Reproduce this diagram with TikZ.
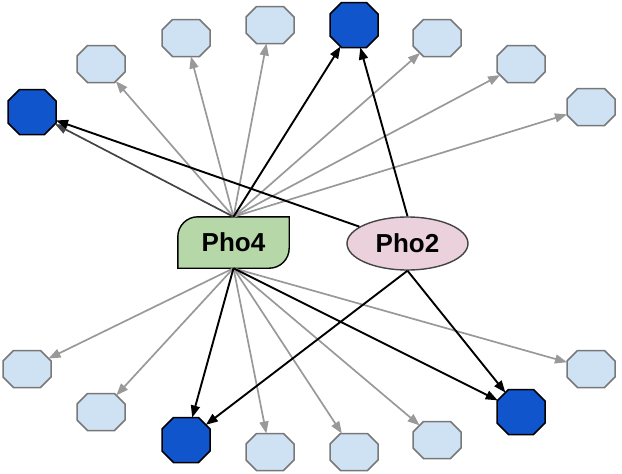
\documentclass[tikz,border=0pt]{standalone}
\usepackage{fontspec}
\setmainfont{Liberation Sans}
\usetikzlibrary{arrows.meta,calc,shapes.geometric,backgrounds}
\definecolor{liteblue}{HTML}{CFE2F3}
\definecolor{darkblue}{HTML}{1155CC}
\definecolor{octgray}{HTML}{787878}
\definecolor{edgegray}{HTML}{999999}
\definecolor{edgedark}{HTML}{444444}
\definecolor{phofourfill}{HTML}{B6D7A8}
\definecolor{photwofill}{HTML}{EAD1DC}
% octagon outline around a named node: #1 style, #2 node, #3 half width, #4 half height, #5 cut
\newcommand\octoutline[5]{%
  \draw[#1] ($(#2)+(-#3+#5,-#4)$) -- ($(#2)+(#3-#5,-#4)$) -- ($(#2)+(#3,-#4+#5)$) -- ($(#2)+(#3,#4-#5)$)
    -- ($(#2)+(#3-#5,#4)$) -- ($(#2)+(-#3+#5,#4)$) -- ($(#2)+(-#3,#4-#5)$) -- ($(#2)+(-#3,-#4+#5)$) -- cycle;}
% arrow from #2 to the octagon border of node #3: #1 style, #4 half width, #5 half height, #6 cut
\newcommand\octarrow[6]{%
  \draw[#1] let \p1=($(#2)-(#3)$),
    \n1={veclen(\x1,\y1)*min(#4/max(abs(\x1),0.1), #5/max(abs(\y1),0.1), (#4/#6+#5/#6-1)/(abs(\x1)/#6+abs(\y1)/#6))}
    in (#2) -- ($(#3)!\n1!(#2)$);}
\begin{document}
\begin{tikzpicture}[x=1pt,y=-1pt,
  lite/.style={rectangle, minimum width=48pt, minimum height=37pt, inner sep=0pt},
  dark/.style={rectangle, minimum width=48pt, minimum height=45pt, inner sep=0pt},
  liteline/.style={draw=octgray, fill=liteblue, line width=1.5pt},
  darkline/.style={draw=black, fill=darkblue, line width=1.5pt},
  lbl/.style={font=\fontsize{26}{30}\selectfont\bfseries},
  gedge/.style={draw=edgegray, line width=1.7pt, -{Triangle[length=12pt,width=9pt]}},
  bedge/.style={draw=black, line width=1.9pt, -{Triangle[length=12pt,width=9pt]}},
  dedge/.style={draw=edgedark, line width=1.7pt, -{Triangle[length=12pt,width=9pt]}}
]
\useasboundingbox (0,0) rectangle (622,474);
% Hub nodes
\node[lbl, rectangle, minimum width=111pt, minimum height=51pt, inner sep=0pt] (p4) at (233.5,242.5) {Pho4};
\node[lbl, ellipse, minimum width=121pt, minimum height=53pt, inner sep=0pt, draw=edgedark, fill=photwofill, line width=1.4pt] (p2) at (407.5,243.5) {Pho2};
\begin{scope}[on background layer]
\draw[fill=phofourfill, draw=black, line width=1.4pt]
  (p4.south west) [rounded corners=20pt] -- (p4.north west) [sharp corners] -- (p4.north east)
  [rounded corners=20pt] -- (p4.south east) [sharp corners] -- cycle;
\end{scope}
% Targets
\node[dark] (d1) at (32,112) {};
\node[lite] (l1) at (101,64) {};
\node[lite] (l2) at (186,38) {};
\node[lite] (l3) at (270,25) {};
\node[dark] (d2) at (354,25) {};
\node[lite] (l4) at (437,38) {};
\node[lite] (l5) at (521,64) {};
\node[lite] (l6) at (591,107) {};
\node[lite] (l7) at (27,369) {};
\node[lite] (l8) at (101,412) {};
\node[dark] (d3) at (186,440) {};
\node[lite] (l9) at (270,452) {};
\node[lite] (l10) at (354,452) {};
\node[lite] (l11) at (437,440) {};
\node[dark] (d4) at (521,412) {};
\node[lite] (l12) at (591,369) {};
\foreach \t in {l1,l2,l3,l4,l5,l6,l7,l8,l9,l10,l11,l12} {\octoutline{liteline}{\t}{24}{18.5}{10.5}}
\foreach \t in {d1,d2,d3,d4} {\octoutline{darkline}{\t}{24}{22.5}{11.5}}
% Edges from Pho4
\foreach \t in {l1,l2,l3,l4,l5,l6} {\octarrow{gedge}{p4.north}{\t}{24}{18.5}{10.5}}
\foreach \t in {l7,l8,l9,l10,l11,l12} {\octarrow{gedge}{p4.south}{\t}{24}{18.5}{10.5}}
\octarrow{dedge}{p4.north}{d1}{24}{22.5}{11.5}
\octarrow{bedge}{p4.north}{d2}{24}{22.5}{11.5}
\octarrow{bedge}{p4.south}{d3}{24}{22.5}{11.5}
\octarrow{bedge}{p4.south}{d4}{24}{22.5}{11.5}
% Edges from Pho2
\octarrow{bedge}{p2}{d1}{24}{22.5}{11.5}
\octarrow{bedge}{p2.north}{d2}{24}{22.5}{11.5}
\octarrow{bedge}{p2.south}{d3}{24}{22.5}{11.5}
\octarrow{bedge}{p2.south}{d4}{24}{22.5}{11.5}
\end{tikzpicture}
\end{document}
